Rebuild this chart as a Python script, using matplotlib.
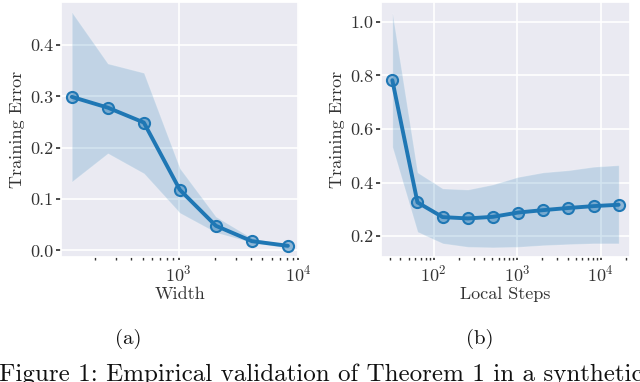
import numpy as np
import matplotlib
matplotlib.use("Agg")
import matplotlib.pyplot as plt
import seaborn as sns
from matplotlib.ticker import LogLocator, NullFormatter

sns.set_theme(style="darkgrid")
plt.rcParams.update({
    "font.family": "serif",
    "font.serif": ["cmr10", "DejaVu Serif"],
    "mathtext.fontset": "cm",
    "axes.formatter.use_mathtext": True,
    "xtick.bottom": True,
    "ytick.left": True,
    "xtick.major.size": 2.5,
    "xtick.minor.size": 2.2,
    "ytick.major.size": 3.5,
    "xtick.color": "#333333",
    "ytick.color": "#333333",
})

# Panel (a)
width = [128, 256, 512, 1024, 2048, 4096, 8192]
width_err = [0.299, 0.278, 0.249, 0.118, 0.048, 0.018, 0.009]
width_hi = [0.464, 0.364, 0.346, 0.160, 0.066, 0.024, 0.011]
width_lo = [0.134, 0.189, 0.150, 0.073, 0.035, 0.0155, 0.0045]

# Panel (b)
steps = [32, 64, 128, 256, 512, 1024, 2048, 4096, 8192, 16384]
steps_err = [0.782, 0.326, 0.271, 0.266, 0.272, 0.288, 0.297, 0.305, 0.312, 0.317]
steps_hi = [1.034, 0.438, 0.378, 0.374, 0.393, 0.421, 0.438, 0.446, 0.459, 0.465]
steps_lo = [0.533, 0.216, 0.173, 0.160, 0.158, 0.160, 0.166, 0.170, 0.173, 0.173]

blue = "#1f77b4"

fig = plt.figure(figsize=(6.4, 3.82), dpi=100)
W, H = 640, 382
axa = fig.add_axes([61 / W, 1 - 257 / H, (298.7 - 61) / W, 255 / H])
axb = fig.add_axes([381 / W, 1 - 257 / H, (630 - 381) / W, 255 / H])

def draw(ax, x, y, lo, hi, xlabel, yticks):
    ax.fill_between(x, lo, hi, color=blue, alpha=0.2, edgecolor="white", linewidth=0.8)
    ax.plot(x, y, color=blue, lw=2.8, marker="o", markersize=8,
            markerfacecolor=(0.12, 0.47, 0.71, 0.45), markeredgecolor=blue,
            markeredgewidth=1.5)
    ax.set_xscale("log")
    ax.xaxis.set_minor_locator(LogLocator(base=10, subs=np.arange(2, 10)))
    ax.xaxis.set_minor_formatter(NullFormatter())
    ax.grid(True, which="major", color="white", lw=1.2)
    ax.grid(False, which="minor")
    ax.set_yticks(yticks)
    ax.set_yticklabels([f"{t:.1f}" for t in yticks])
    ax.set_xlabel(xlabel, fontsize=13, color="#333333", labelpad=2)
    ax.set_ylabel("Training Error", fontsize=13, color="#333333", labelpad=4)
    ax.tick_params(labelsize=13, pad=2)
    ax.tick_params(axis="x", which="both", direction="out", color="#333333")

draw(axa, width, width_err, width_lo, width_hi, "Width", [0.0, 0.1, 0.2, 0.3, 0.4])
axa.set_ylim(-0.0128, 0.4837)
draw(axb, steps, steps_err, steps_lo, steps_hi, "Local Steps", [0.2, 0.4, 0.6, 0.8, 1.0])
axb.set_ylim(0.122, 1.074)

fig.text(128 / W, 1 - 339 / H, "(a)", ha="center", va="center", fontsize=15, color="#111111")
fig.text(480 / W, 1 - 339 / H, "(b)", ha="center", va="center", fontsize=15, color="#111111")
fig.text(-1 / W, 1 - 381 / H, "Figure 1: Empirical validation of Theorem 1 in a synthetic",
         ha="left", va="baseline", fontsize=18, color="#111111")

fig.savefig("out.png", dpi=100)
